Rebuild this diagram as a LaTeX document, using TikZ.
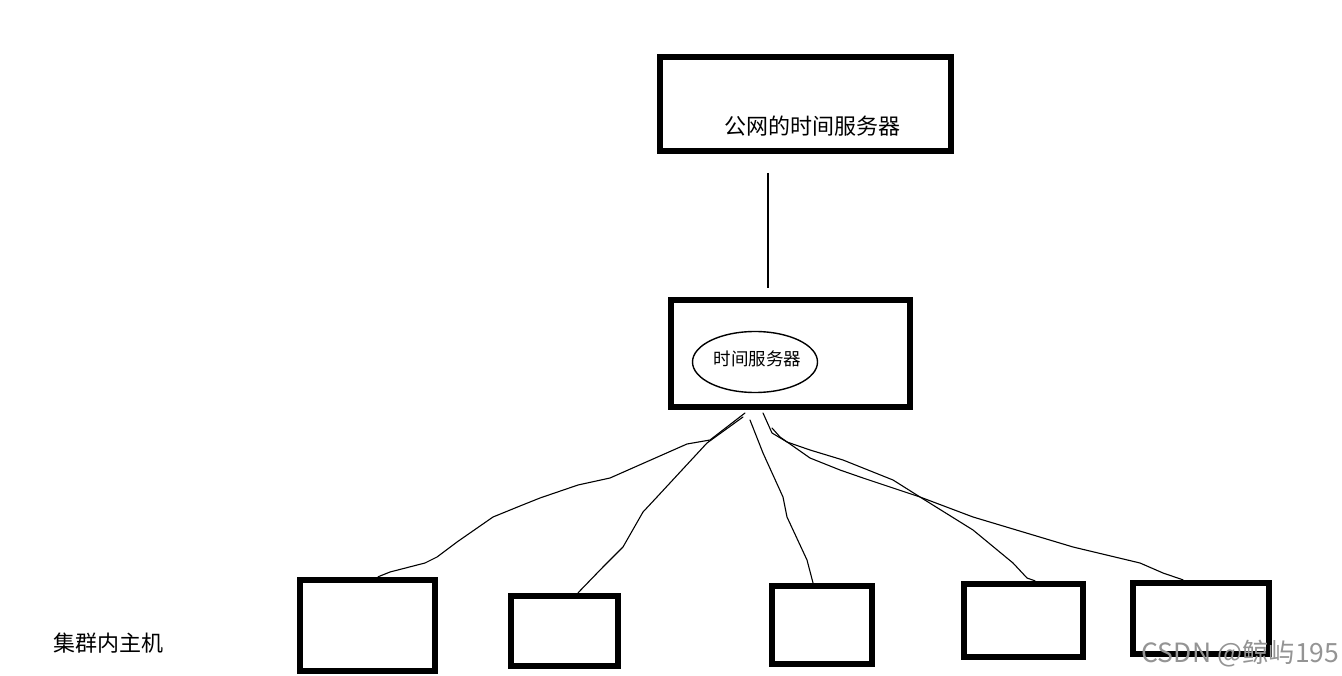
\documentclass[tikz,border=0pt]{standalone}
\usepackage{fontspec}
\setmainfont{Noto Sans CJK SC}
\usetikzlibrary{shapes.geometric}
\begin{document}
\begin{tikzpicture}[x=1pt,y=-1pt,
  box/.style={draw=black,line width=6.3pt,rectangle,inner sep=0pt,line join=miter},
  wire/.style={draw=black,line width=1.1pt,line join=round,line cap=round},
  bigtxt/.style={inner sep=0pt,font=\fontsize{22}{26}\selectfont},
  smalltxt/.style={inner sep=0pt,font=\fontsize{17.5}{21}\selectfont},
  bubble/.style={draw=black,line width=1.4pt,ellipse,inner sep=0pt,minimum width=125pt,minimum height=61pt},
  wmark/.style={inner sep=0pt,text=black!42,font=\fontsize{26.5}{30}\selectfont}
]
\useasboundingbox[fill=white] (0,0) rectangle (1342,676);

% boxes
\node[box,minimum width=291pt,minimum height=94pt] (top) at (805.5,104) {};
\node[bigtxt] (toptxt) at (812.5,126) {公网的时间服务器};

\node[box,minimum width=239pt,minimum height=107pt] (mid) at (790.5,353.5) {};
\node[bubble] (ell) at (755,362) {};
\node[smalltxt] (elltxt) at (757.5,359) {时间服务器};

\node[box,minimum width=135pt,minimum height=91pt] (b1) at (367.5,625.5) {};
\node[box,minimum width=107pt,minimum height=70pt] (b2) at (564.5,631) {};
\node[box,minimum width=100pt,minimum height=78pt] (b3) at (822,625) {};
\node[box,minimum width=119pt,minimum height=73pt] (b4) at (1023.5,620.5) {};
\node[box,minimum width=136pt,minimum height=71pt] (b5) at (1201,618.5) {};

\node[bigtxt] (lbl) at (108,643) {集群内主机};
\node[wmark] (wm) at (1240.5,654) {CSDN @鲸屿195};

% vertical link
\coordinate (v1) at (768,173);
\coordinate (v2) at (768,288);
\draw[black,line width=1.8pt] (v1) -- (v2);

% hand-drawn connectors
\coordinate (s1) at (745,413);
\coordinate (s2) at (743,417);
\coordinate (s3) at (750,420);
\coordinate (s4) at (763,413);
\coordinate (s5) at (772,428);
\coordinate (e1) at (b1.north -| 378,0);
\coordinate (e2) at (b2.north -| 578,0);
\coordinate (e3) at (b3.north -| 813,0);
\coordinate (e4) at (b4.north -| 1035,0);
\coordinate (e5) at (b5.north -| 1183,0);

\draw[wire] (s1) -- (710,440) -- (687,444) -- (610,478) -- (578,485) -- (540,498) -- (520,506) -- (493,517) -- (457,542) -- (437,557) -- (425,563) -- (390,572) -- (e1);
\draw[wire] (s2) -- (707,443) -- (657,497) -- (643,512) -- (623,547) -- (603,567) -- (e2);
\draw[wire] (s3) -- (763,453) -- (783,497) -- (787,517) -- (807,560) -- (e3);
\draw[wire] (s4) -- (772,433) -- (787,442) -- (810,450) -- (843,460) -- (893,480) -- (920,497) -- (973,530) -- (1013,563) -- (1027,578) -- (e4);
\draw[wire] (s5) -- (780,437) -- (810,458) -- (840,470) -- (863,478) -- (920,497) -- (973,517) -- (1073,547) -- (1140,563) -- (1163,573) -- (e5);
\end{tikzpicture}
\end{document}
